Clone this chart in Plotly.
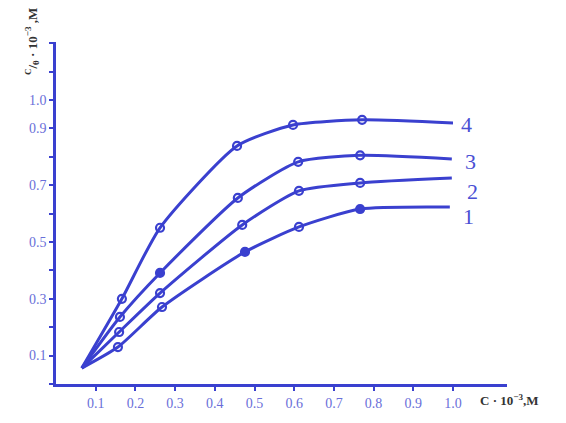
"""Saturation curves C/theta vs C for four series."""
import plotly.graph_objects as go

# origin point shared by all curves
origin = (0.065, 0.056)

# measured points (x = C*10^-3 M, y = C/theta*10^-3 M)
x_points = {
  '1': [0.156, 0.267, 0.476, 0.612, 0.766],
  '2': [0.159, 0.262, 0.469, 0.612, 0.766],
  '3': [0.161, 0.262, 0.458, 0.610, 0.766],
  '4': [0.166, 0.262, 0.456, 0.597, 0.771],
}
y_points = {
  '1': [0.130, 0.271, 0.465, 0.553, 0.616],
  '2': [0.183, 0.320, 0.560, 0.680, 0.708],
  '3': [0.236, 0.391, 0.655, 0.782, 0.805],
  '4': [0.300, 0.550, 0.838, 0.912, 0.930],
}
filled = {
  '1': [False, False, True, False, True],
  '2': [False, False, False, False, False],
  '3': [False, True, False, False, False],
  '4': [False, False, False, False, False],
}
# where each curve ends on the right
x_end = {'1': 0.992, '2': 0.997, '3': 0.997, '4': 1.0}
y_end = {'1': 0.623, '2': 0.725, '3': 0.792, '4': 0.919}

x_ticks = [0.1, 0.2, 0.3, 0.4, 0.5, 0.6, 0.7, 0.8, 0.9, 1.0]
x_tick_text = ['0.1', '0.2', '0.3', '0.4', '0.5', '0.6', '0.7', '0.8', '0.9', '1.0']
y_ticks = [0.1, 0.3, 0.5, 0.7, 0.9, 1.0]
y_tick_text = ['0.1', '0.3', '0.5', '0.7', '0.9', '1.0']

# curve number labels next to the line ends
label_x = {'1': 1.038, '2': 1.05, '3': 1.045, '4': 1.035}
label_y = {'1': 0.588, '2': 0.676, '3': 0.785, '4': 0.912}

BLUE = '#3a40cf'
TICK_BLUE = '#6a6fd9'

fig = go.Figure()

for name in ['1', '2', '3', '4']:
  xs = [origin[0]] + x_points[name] + [x_end[name]]
  ys = [origin[1]] + y_points[name] + [y_end[name]]
  fig.add_trace(go.Scatter(
    x=xs, y=ys, mode='lines',
    line=dict(color=BLUE, width=3, shape='spline', smoothing=0.6),
    showlegend=False, hoverinfo='skip'
  ))
  fig.add_trace(go.Scatter(
    x=x_points[name], y=y_points[name], mode='markers',
    marker=dict(
      symbol=['circle' if f else 'circle-open' for f in filled[name]],
      size=8, color=BLUE, line=dict(color=BLUE, width=2.2)
    ),
    showlegend=False, name=name
  ))
  fig.add_annotation(
    x=label_x[name], y=label_y[name], text=name, showarrow=False,
    xanchor='center', yanchor='middle',
    font=dict(family='Liberation Serif', size=22, color='#4a50d4')
  )

fig.add_annotation(
  xref='paper', yref='paper', x=0.936, y=-0.047, xanchor='left', yanchor='middle',
  text='<b>C · 10<sup>−3</sup>,M</b>', showarrow=False,
  font=dict(family='Liberation Serif', size=13, color='#333333')
)
fig.add_annotation(
  xref='paper', yref='paper', x=-0.053, y=1.0, xanchor='center', yanchor='middle',
  text='<b><sup>C</sup>/<sub>θ</sub> · 10<sup>−3</sup> ,M</b>', showarrow=False, textangle=-90,
  font=dict(family='Liberation Serif', size=13, color='#333333')
)

axis_style = dict(
  showline=True, linecolor=BLUE, linewidth=2.5, showgrid=False, zeroline=False,
  ticks='outside', ticklen=4, tickwidth=2, tickcolor=BLUE,
  tickfont=dict(family='Liberation Serif', size=14, color=TICK_BLUE),
  fixedrange=True
)

fig.update_xaxes(range=[0, 1.136], tickvals=x_ticks, ticktext=x_tick_text, **axis_style)
fig.update_yaxes(
  range=[0, 1.204], tickvals=y_ticks, ticktext=y_tick_text,
  minor=dict(ticks='outside', tick0=0, dtick=0.1, ticklen=4, tickwidth=2, tickcolor=BLUE),
  **axis_style
)

# the page body adds an 8px margin, so the figure is a bit smaller than the window
fig.update_layout(
  width=558, height=415,
  margin=dict(l=48, r=59, t=34, b=39),
  plot_bgcolor='white', paper_bgcolor='white',
  showlegend=False
)

fig.write_html('out.html')
